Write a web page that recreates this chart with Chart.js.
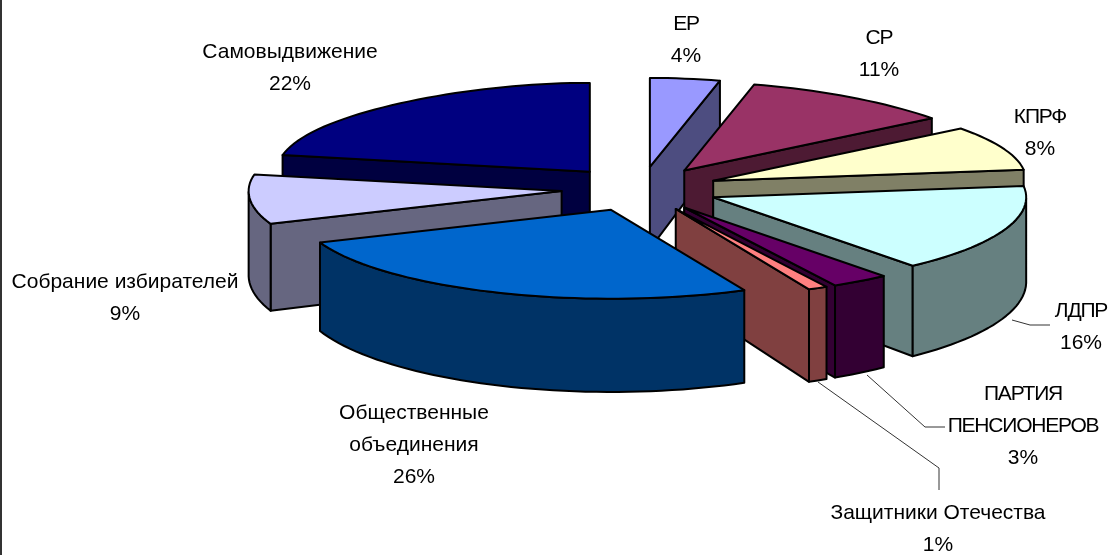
<!DOCTYPE html>
<html>
<head>
<meta charset="utf-8">
<script src="https://cdn.jsdelivr.net/npm/chart.js@4"></script>
<style>
  html, body { margin: 0; padding: 0; background: #fff; overflow: hidden; }
  #wrap { width: 1115px; height: 555px; box-sizing: border-box; border-left: 2px solid #333; }
  canvas { display: block; margin-left: -2px; }
</style>
</head>
<body>
<div id="wrap"><canvas id="partyChart" width="1115" height="555"></canvas></div>
<script>
const categories = [
  ["ЕР"],
  ["СР"],
  ["КПРФ"],
  ["ЛДПР"],
  ["ПАРТИЯ", "ПЕНСИОНЕРОВ"],
  ["Защитники Отечества"],
  ["Общественные", "объединения"],
  ["Собрание избирателей"],
  ["Самовыдвижение"],
];
const shares = [4, 11, 8, 16, 3, 1, 26, 9, 22];
const topColors = ["#9999FF", "#993366", "#FFFFCC", "#CCFFFF", "#660066", "#FF8080", "#0066CC", "#CCCCFF", "#000080"];
const wallColors = ["#4D4D80", "#4D1A33", "#808066", "#668080", "#330033", "#804040", "#003366", "#666680", "#000040"];

// label anchors: centre x, y of first line
const labelAnchors = [
  [686, 24], [879, 38], [1040, 117], [1081, 311], [1023, 394],
  [938, 513], [414, 413], [125, 282], [290, 52],
];
const leaders = [
  [[1012, 320], [1030, 325], [1050, 325]],
  [[867, 375], [925, 427], [945, 427]],
  [[818, 382], [939, 468], [939, 490]],
];

/* -------------------------------- */
/* 3D PROJECTION                    */
/* -------------------------------- */

const view = { cx: 640, cy: 189, radius: 313, tilt: 0.284, depth: 84, eye: 3500 };

// flat top ellipse, the wall height grows towards the viewer
function project(wx, wz, h) {
  return [view.cx + wx, view.cy - wz * view.tilt + h * (1 - wz / view.eye)];
}

// the far part of each slice narrows a little around its own apex
function narrowing(rz) {
  return 1 - 0.11 * Math.pow(Math.max(0, rz) / view.radius, 3);
}

function poly(ctx, pts, fill) {
  ctx.beginPath();
  pts.forEach((p, i) => (i ? ctx.lineTo(p[0], p[1]) : ctx.moveTo(p[0], p[1])));
  ctx.closePath();
  ctx.fillStyle = fill;
  ctx.fill();
  ctx.stroke();
}

function drawSlice(ctx, arc, top, wall) {
  const k = view.radius / arc.outerRadius;
  const mid = (arc.startAngle + arc.endAngle) / 2;
  const off = arc.options.offset * k;
  const ax = Math.cos(mid) * off;
  const az = -Math.sin(mid) * off;

  const rim = [];
  const n = Math.max(2, Math.ceil((arc.endAngle - arc.startAngle) / 0.035));
  for (let i = 0; i <= n; i++) {
    const a = arc.startAngle + ((arc.endAngle - arc.startAngle) * i) / n;
    const rz = -Math.sin(a) * view.radius;
    rim.push({ a, x: ax + Math.cos(a) * view.radius * narrowing(rz), z: az + rz });
  }
  const first = rim[0];
  const last = rim[n];

  // radial walls, shown when they turn towards the viewer
  const radial = (p) => [project(ax, az, 0), project(p.x, p.z, 0), project(p.x, p.z, view.depth), project(ax, az, view.depth)];
  if (Math.cos(first.a) < -1e-6) poly(ctx, radial(first), wall);
  if (Math.cos(last.a) > 1e-6) poly(ctx, radial(last), wall);

  // outer wall, front half only
  const front = rim.filter((p) => Math.sin(p.a) > 0);
  if (front.length > 1) {
    const pts = front.map((p) => project(p.x, p.z, 0));
    front.slice().reverse().forEach((p) => pts.push(project(p.x, p.z, view.depth)));
    poly(ctx, pts, wall);
  }

  // top face
  poly(ctx, [project(ax, az, 0)].concat(rim.map((p) => project(p.x, p.z, 0))), top);
}

const pie3d = {
  id: "pie3d",
  beforeDatasetDraw(chart, args) {
    const ctx = chart.ctx;
    const arcs = args.meta.data;
    // back to front
    const order = arcs
      .map((arc, i) => ({ i, z: -Math.sin((arc.startAngle + arc.endAngle) / 2) }))
      .sort((a, b) => b.z - a.z);
    ctx.save();
    ctx.strokeStyle = "#000";
    ctx.lineWidth = 2;
    ctx.lineJoin = "round";
    order.forEach(({ i }) => drawSlice(ctx, arcs[i], topColors[i], wallColors[i]));
    ctx.restore();
    return false;
  },
  afterDraw(chart) {
    const ctx = chart.ctx;
    ctx.save();
    ctx.strokeStyle = "#333";
    ctx.lineWidth = 1;
    leaders.forEach((line) => {
      ctx.beginPath();
      line.forEach((p, i) => (i ? ctx.lineTo(p[0], p[1]) : ctx.moveTo(p[0], p[1])));
      ctx.stroke();
    });
    ctx.fillStyle = "#000";
    ctx.font = '21px "Liberation Sans", Arial, sans-serif';
    ctx.textAlign = "center";
    ctx.textBaseline = "middle";
    categories.forEach((lines, i) => {
      const [x, y] = labelAnchors[i];
      lines.concat(shares[i] + "%").forEach((text, j) => {
        // the capitals sit tight in the original
        ctx.letterSpacing = text === text.toUpperCase() && !text.includes("%") ? "-1.2px" : "0px";
        ctx.fillText(text, x, y + j * 32);
      });
    });
    ctx.restore();
  },
};

new Chart(document.getElementById("partyChart"), {
  type: "pie",
  data: {
    labels: categories.map((c) => c.join(" ")),
    datasets: [
      {
        data: shares,
        backgroundColor: topColors,
        offset: 62,
        hoverOffset: 0,
        borderWidth: 0,
      },
    ],
  },
  options: {
    responsive: false,
    animation: false,
    plugins: { legend: { display: false }, tooltip: { enabled: false } },
  },
  plugins: [pie3d],
});
</script>
</body>
</html>
